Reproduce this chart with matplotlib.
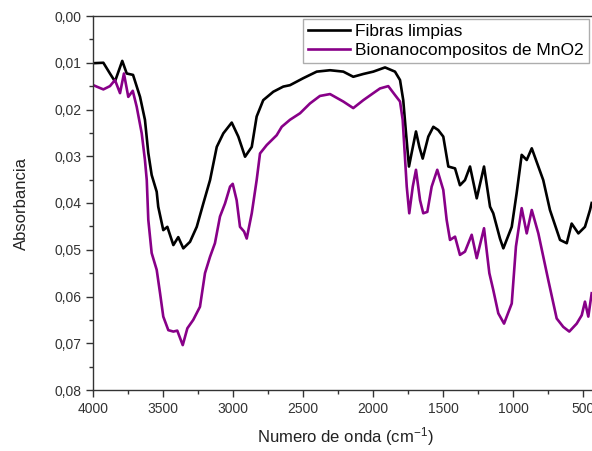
import matplotlib
matplotlib.use("Agg")
import matplotlib.pyplot as plt
from matplotlib.ticker import MultipleLocator, FuncFormatter

plt.rcParams['font.family'] = ['Liberation Sans', 'DejaVu Sans']
plt.rcParams['mathtext.fontset'] = 'custom'
plt.rcParams['mathtext.rm'] = 'Liberation Sans'
plt.rcParams['mathtext.it'] = 'Liberation Sans'

# Fibras limpias
wn_fibras = [4000, 3926, 3879, 3843, 3791, 3759, 3714, 3664, 3629, 3605, 3581, 3545,
             3534, 3498, 3469, 3426, 3391, 3355, 3307, 3259, 3212, 3164, 3116, 3069,
             3009, 2962, 2914, 2866, 2831, 2784, 2712, 2641, 2593, 2498, 2402, 2307,
             2212, 2141, 2069, 1998, 1914, 1843, 1807, 1784, 1764, 1743, 1724, 1693,
             1669, 1645, 1605, 1569, 1534, 1498, 1462, 1414, 1379, 1343, 1307, 1259,
             1207, 1164, 1141, 1093, 1069, 1009, 974, 938, 902, 866, 819, 784, 736,
             664, 616, 581, 533, 486, 450, 438]
abs_fibras = [0.0101, 0.0100, 0.0123, 0.0140, 0.0096, 0.0123, 0.0126, 0.0173, 0.0222,
              0.0293, 0.0340, 0.0376, 0.0408, 0.0458, 0.0451, 0.0490, 0.0473, 0.0497,
              0.0483, 0.0451, 0.0401, 0.0351, 0.0280, 0.0251, 0.0228, 0.0258, 0.0301,
              0.0280, 0.0215, 0.0180, 0.0162, 0.0151, 0.0148, 0.0133, 0.0119, 0.0116,
              0.0119, 0.0130, 0.0124, 0.0119, 0.0110, 0.0119, 0.0137, 0.0180, 0.0251,
              0.0322, 0.0293, 0.0247, 0.0280, 0.0305, 0.0258, 0.0237, 0.0244, 0.0258,
              0.0322, 0.0326, 0.0362, 0.0351, 0.0322, 0.0390, 0.0322, 0.0408, 0.0422,
              0.0476, 0.0497, 0.0451, 0.0379, 0.0297, 0.0308, 0.0283, 0.0322, 0.0351,
              0.0415, 0.0479, 0.0486, 0.0444, 0.0465, 0.0451, 0.0415, 0.0400]

# Bionanocompositos de MnO2
wn_mno2 = [3998, 3926, 3879, 3843, 3807, 3779, 3748, 3716, 3688, 3652, 3629, 3616,
           3605, 3581, 3545, 3521, 3498, 3462, 3426, 3398, 3359, 3326, 3284, 3236,
           3200, 3164, 3129, 3093, 3057, 3021, 3002, 2974, 2950, 2921, 2902, 2866,
           2831, 2807, 2759, 2688, 2652, 2593, 2521, 2450, 2379, 2307, 2212, 2141,
           2069, 1998, 1950, 1891, 1843, 1807, 1788, 1759, 1741, 1716, 1693, 1664,
           1641, 1612, 1581, 1541, 1498, 1474, 1450, 1414, 1379, 1343, 1295, 1259,
           1207, 1169, 1141, 1105, 1064, 1009, 979, 938, 902, 866, 819, 748, 688,
           641, 598, 545, 509, 486, 462, 438]
abs_mno2 = [0.0148, 0.0157, 0.0150, 0.0137, 0.0165, 0.0123, 0.0173, 0.0160, 0.0194,
            0.0251, 0.0308, 0.0351, 0.0436, 0.0507, 0.0543, 0.0593, 0.0643, 0.0672,
            0.0675, 0.0673, 0.0704, 0.0668, 0.0650, 0.0622, 0.0550, 0.0515, 0.0486,
            0.0429, 0.0401, 0.0365, 0.0359, 0.0394, 0.0451, 0.0461, 0.0476, 0.0422,
            0.0351, 0.0294, 0.0276, 0.0255, 0.0237, 0.0222, 0.0208, 0.0187, 0.0171,
            0.0167, 0.0183, 0.0197, 0.0180, 0.0165, 0.0155, 0.0150, 0.0169, 0.0183,
            0.0222, 0.0365, 0.0422, 0.0365, 0.0329, 0.0394, 0.0422, 0.0419, 0.0365,
            0.0329, 0.0372, 0.0436, 0.0479, 0.0472, 0.0511, 0.0504, 0.0468, 0.0518,
            0.0454, 0.0550, 0.0586, 0.0636, 0.0658, 0.0615, 0.0493, 0.0411, 0.0465,
            0.0415, 0.0465, 0.0565, 0.0647, 0.0665, 0.0675, 0.0658, 0.0640, 0.0611,
            0.0643, 0.0593]

labels = ["Fibras limpias", "Bionanocompositos de MnO2"]
xticks = [4000, 3500, 3000, 2500, 2000, 1500, 1000, 500]
yticks = [0.00, 0.01, 0.02, 0.03, 0.04, 0.05, 0.06, 0.07, 0.08]

W, H = 592, 451
fig = plt.figure(figsize=(W / 100, H / 100), dpi=100)
ax = fig.add_axes([93 / W, 1 - 390 / H, (597 - 93) / W, (390 - 16) / H])

ax.plot(wn_fibras, abs_fibras, color='black', lw=1.9, label=labels[0])
ax.plot(wn_mno2, abs_mno2, color='#880088', lw=1.9, label=labels[1])

ax.set_xlim(4000, 400)
ax.set_ylim(0.08, 0.0)
ax.set_xticks(xticks)
ax.set_yticks(yticks)
ax.xaxis.set_minor_locator(MultipleLocator(250))
ax.yaxis.set_minor_locator(MultipleLocator(0.005))
ax.yaxis.set_major_formatter(FuncFormatter(lambda v, p: f"{v:.2f}".replace('.', ',')))
ax.xaxis.set_major_formatter(FuncFormatter(lambda v, p: f"{int(round(v))}"))

ax.tick_params(which='both', direction='out', colors='#333333', labelsize=10,
               top=False, right=False)
ax.tick_params(which='major', length=5, width=1.0)
ax.tick_params(which='minor', length=3, width=1.0)
for s in ['left', 'bottom', 'top']:
    ax.spines[s].set_color('#333333')
    ax.spines[s].set_linewidth(1.0)
ax.spines['right'].set_visible(False)

ax.set_xlabel("Numero de onda (cm$^{-1}$)", fontsize=12, color='#222222', labelpad=7)
ax.set_ylabel("Absorbancia", fontsize=12, color='#222222', labelpad=18)

leg = ax.legend(loc='upper right', bbox_to_anchor=(589 / W, 1 - 19 / H),
                bbox_transform=fig.transFigure, borderaxespad=0, fontsize=12.5,
                frameon=True, fancybox=False, edgecolor='#999999',
                borderpad=0.3, labelspacing=0.2, handletextpad=0.3,
                handlelength=2.4)
leg.get_frame().set_linewidth(1.0)

fig.savefig("out.png", dpi=100)
